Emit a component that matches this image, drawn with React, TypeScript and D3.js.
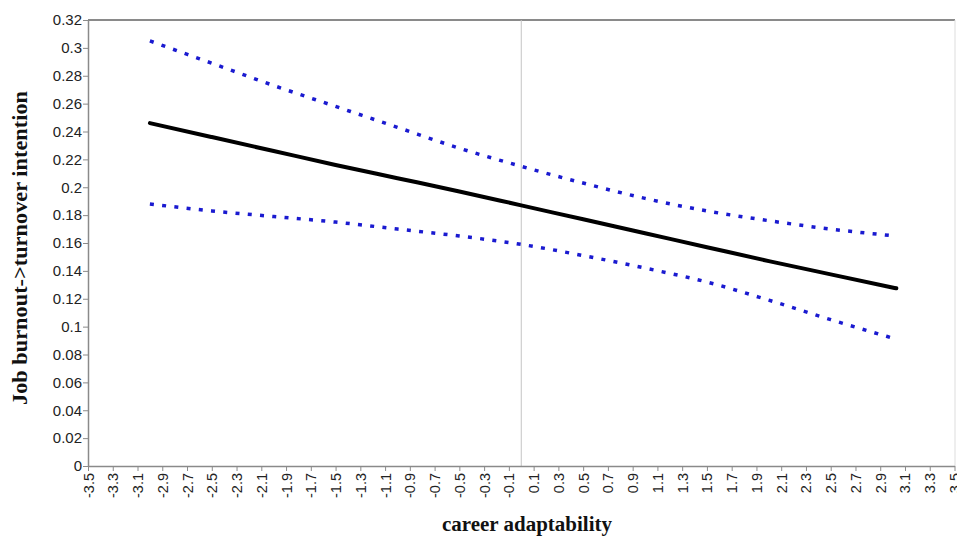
import React, { useEffect, useRef } from 'react';
import * as d3 from 'd3';

// x positions of the plotted points (career adaptability)
const xValues = [-3, -2.5, -2, -1.5, -1, -0.5, 0, 0.5, 1, 1.5, 2, 2.5, 3.03];
// simple slope estimate
const estimate = [0.246, 0.236, 0.226, 0.216, 0.2065, 0.197, 0.187, 0.177, 0.167, 0.157, 0.147, 0.1375, 0.1275];
// upper and lower confidence bands
const upperBand = [0.305, 0.289, 0.273, 0.258, 0.243, 0.228, 0.215, 0.203, 0.192, 0.183, 0.176, 0.17, 0.165];
const lowerBand = [0.188, 0.183, 0.179, 0.175, 0.17, 0.165, 0.159, 0.151, 0.142, 0.132, 0.119, 0.105, 0.091];

const xTicks = d3.range(0, 36).map(k => +(-3.5 + k * 0.2).toFixed(1));
const yTicks = d3.range(0, 17).map(k => +(k * 0.02).toFixed(2));

const xTitle = 'career adaptability';
const yTitle = 'Job burnout->turnover intention';

export default function App() {
    const ref = useRef<SVGSVGElement>(null);

    useEffect(() => {
        const width = 957;
        const height = 544;
        const margin = { top: 20, right: 2, bottom: 78, left: 88 };

        const svg = d3.select(ref.current);
        svg.selectAll('*').remove();

        const x = d3.scaleLinear().domain([-3.5, 3.5]).range([margin.left, width - margin.right - 0.5]);
        const y = d3.scaleLinear().domain([0, 0.32]).range([height - margin.bottom, margin.top]);

        const axisColor = '#8a8a8a';

        // frame top / right
        svg.append('line')
            .attr('x1', margin.left).attr('x2', width - margin.right)
            .attr('y1', margin.top).attr('y2', margin.top)
            .attr('stroke', axisColor).attr('stroke-width', 2);
        svg.append('line')
            .attr('x1', width - margin.right).attr('x2', width - margin.right)
            .attr('y1', margin.top).attr('y2', height - margin.bottom)
            .attr('stroke', '#dddddd').attr('stroke-width', 1);

        // vertical reference line at 0
        svg.append('line')
            .attr('x1', x(0)).attr('x2', x(0))
            .attr('y1', margin.top).attr('y2', height - margin.bottom)
            .attr('stroke', '#c4c4c4').attr('stroke-width', 1);

        const yAxis = svg.append('g')
            .attr('transform', 'translate(' + margin.left + ',0)')
            .call(d3.axisLeft(y).tickValues(yTicks).tickSize(5).tickSizeOuter(0)
                .tickFormat(d => String(+d)));
        yAxis.select('.domain').attr('stroke', axisColor).attr('stroke-width', 1.5);
        yAxis.selectAll('.tick line').attr('stroke', axisColor);
        yAxis.selectAll('.tick text')
            .attr('font-family', 'Liberation Sans, Arial, sans-serif')
            .attr('font-size', 15)
            .attr('fill', '#222')
            .attr('x', -6);

        const xAxis = svg.append('g')
            .attr('transform', 'translate(0,' + (height - margin.bottom) + ')')
            .call(d3.axisBottom(x).tickValues(xTicks).tickSize(5).tickSizeOuter(0)
                .tickFormat(d => (+d).toFixed(1)));
        xAxis.select('.domain').attr('stroke', axisColor).attr('stroke-width', 1.5);
        xAxis.selectAll('.tick line').attr('stroke', axisColor);
        xAxis.selectAll('.tick text')
            .attr('font-family', 'Liberation Sans, Arial, sans-serif')
            .attr('font-size', 14.5)
            .attr('fill', '#222')
            .attr('transform', 'rotate(-90)')
            .attr('text-anchor', 'end')
            .attr('dominant-baseline', 'central')
            .attr('x', -7)
            .attr('y', 0)
            .attr('dy', null);

        const line = d3.line<number>()
            .x((d, i) => x(xValues[i]))
            .y(d => y(d))
            .curve(d3.curveMonotoneX);

        svg.append('path')
            .attr('d', line(upperBand))
            .attr('fill', 'none')
            .attr('stroke', '#1a1ad0')
            .attr('stroke-width', 3.5)
            .attr('stroke-dasharray', '4 8.3');

        svg.append('path')
            .attr('d', line(lowerBand))
            .attr('fill', 'none')
            .attr('stroke', '#1a1ad0')
            .attr('stroke-width', 3.5)
            .attr('stroke-dasharray', '4 8.3');

        svg.append('path')
            .attr('d', line(estimate))
            .attr('fill', 'none')
            .attr('stroke', '#000')
            .attr('stroke-width', 4)
            .attr('stroke-linecap', 'round');

        svg.append('text')
            .attr('x', 527)
            .attr('y', 531)
            .attr('text-anchor', 'middle')
            .attr('font-family', 'Liberation Serif, Times New Roman, serif')
            .attr('font-weight', 'bold')
            .attr('font-size', 20)
            .attr('textLength', 170)
            .attr('lengthAdjust', 'spacingAndGlyphs')
            .attr('fill', '#111')
            .text(xTitle);

        svg.append('text')
            .attr('transform', 'translate(27,' + 248 + ') rotate(-90)')
            .attr('text-anchor', 'middle')
            .attr('font-family', 'Liberation Serif, Times New Roman, serif')
            .attr('font-weight', 'bold')
            .attr('font-size', 20)
            .attr('textLength', 314)
            .attr('lengthAdjust', 'spacingAndGlyphs')
            .attr('fill', '#111')
            .text(yTitle);
    }, []);

    return (
        <svg ref={ref} width={957} height={544}
            style={{ position: 'absolute', left: 0, top: 0, background: '#fff' }} />
    );
}
